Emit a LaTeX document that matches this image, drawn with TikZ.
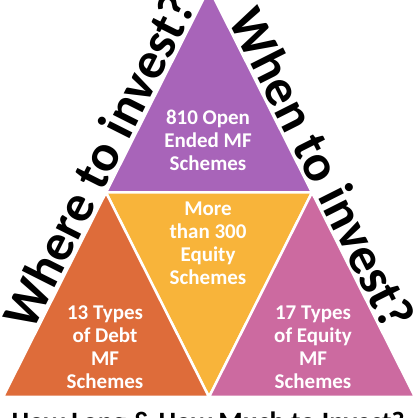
\documentclass[tikz,border=0pt]{standalone}
\usepackage{fontspec}
\setmainfont{Carlito}
\definecolor{cpurple}{HTML}{A864B9}
\definecolor{cyellow}{HTML}{F8B43A}
\definecolor{corange}{HTML}{DE6C3A}
\definecolor{cpink}{HTML}{CC6AA0}
\tikzset{
  tri/.style={draw=white, line width=2.5pt, line join=miter},
  inlabel/.style={text=white, font=\fontsize{21}{23}\selectfont\bfseries, align=center, inner sep=0pt},
  sidelabel/.style={text=black, font=\fontsize{52}{60}\selectfont\bfseries, inner sep=0pt, anchor=base},
  bottomlabel/.style={text=black, font=\fontsize{28}{32}\selectfont\bfseries, inner sep=0pt, anchor=base}
}
\begin{document}
\begin{tikzpicture}[x=1pt,y=1pt]
\useasboundingbox (0,0) rectangle (417,418);
\clip (0,0) rectangle (417,418);
\coordinate (A) at (209,430);
\coordinate (L) at (3,21);
\coordinate (R) at (415,21);
\coordinate (ML) at (106,225.5);
\coordinate (MR) at (312,225.5);
\coordinate (MB) at (209,21);
\filldraw[tri, fill=cpurple] (A) -- (ML) -- (MR) -- cycle;
\filldraw[tri, fill=cyellow] (ML) -- (MR) -- (MB) -- cycle;
\filldraw[tri, fill=corange] (ML) -- (MB) -- (L) -- cycle;
\filldraw[tri, fill=cpink] (MR) -- (R) -- (MB) -- cycle;
\node[inlabel] (top) at (208,278) {810 Open\\Ended MF\\Schemes};
\node[inlabel] (mid) at (208,174.5) {More\\than 300\\Equity\\Schemes};
\node[inlabel] (left) at (105,71) {13 Types\\of Debt\\MF\\Schemes};
\node[inlabel] (right) at (313,71) {17 Types\\of Equity\\MF\\Schemes};
\node[sidelabel, rotate=63.27] (where) at (114.6,249.4) {Where to invest?};
\node[sidelabel, rotate=-63.27] (when) at (306.8,241.6) {When to invest?};
\node[bottomlabel] (how) at (208,-13) {How Long \& How Much to Invest?};
\end{tikzpicture}
\end{document}
